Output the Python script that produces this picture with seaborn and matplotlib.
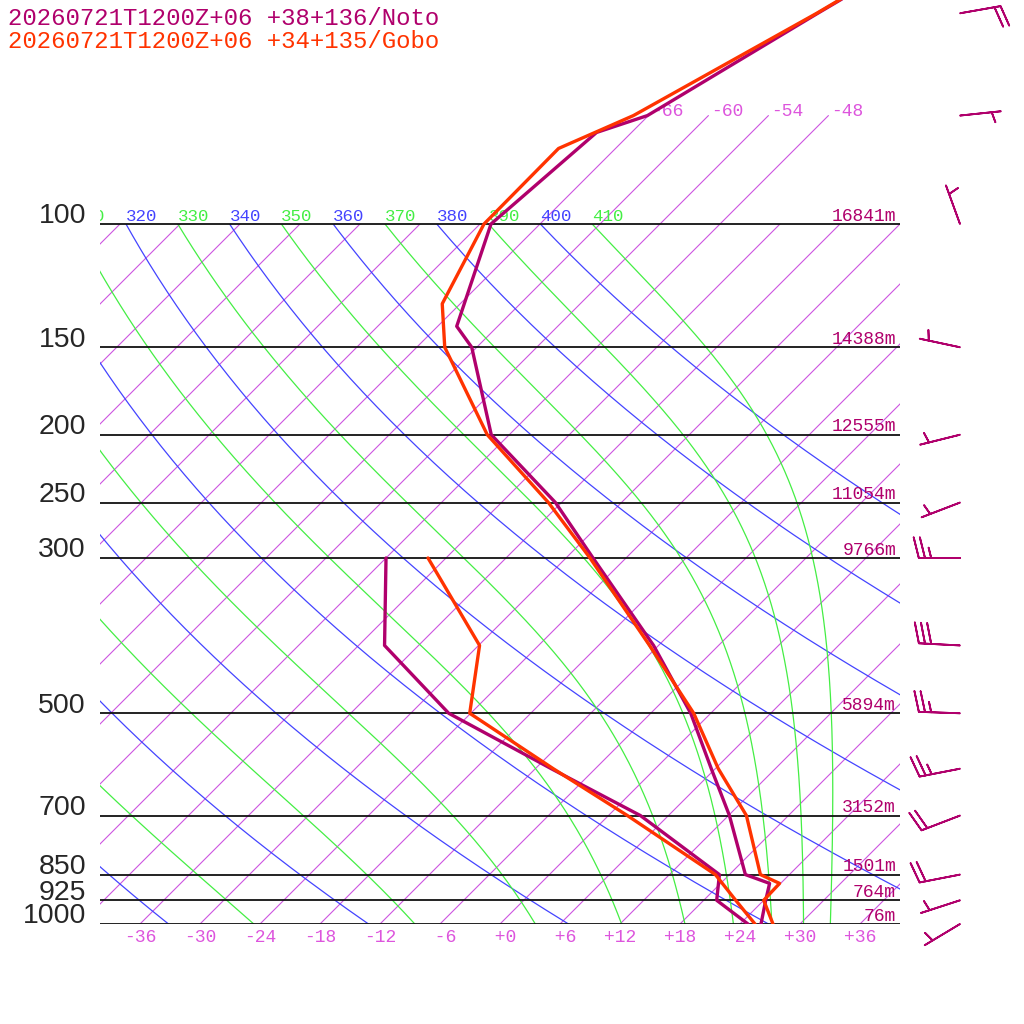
import numpy as np
import pandas as pd
import matplotlib
matplotlib.use("Agg")
import matplotlib.pyplot as plt
import matplotlib.transforms as mtransforms
import seaborn as sns
from matplotlib.patches import Rectangle

# ---------------- data ----------------
title_noto = "20260721T1200Z+06 +38+136/Noto"
title_gobo = "20260721T1200Z+06 +34+135/Gobo"

noto_t_p = [1000, 925, 875, 850, 700, 600, 500, 400, 300, 250, 200, 150, 140, 100, 74, 70, 50, 40]
noto_t = [26.1, 24.2, 22.9, 19.6, 12.1, 5.6, -2.0, -12.5, -27.3, -36.6, -49.8, -60.5, -64.1,
          -70.9, -69.5, -66.1, -59.3, -54.6]
gobo_t_p = [1000, 925, 875, 850, 700, 600, 500, 400, 300, 250, 200, 150, 130, 100, 78, 70, 50, 40]
gobo_t = [27.3, 24.0, 23.9, 21.1, 13.8, 6.3, -1.7, -12.9, -27.6, -37.3, -50.2, -63.2, -67.8,
          -71.6, -71.7, -67.5, -59.4, -54.7]

dew_p = [1000, 925, 850, 700, 600, 500, 400, 300]
noto_td = [24.8, 19.3, 17.0, 3.2, -10.4, -26.2, -39.4, -48.0]
gobo_td = [25.5, 21.2, 16.6, 1.9, -10.2, -24.1, -29.9, -43.8]

wind_p = [1000, 925, 850, 700, 600, 500, 400, 300, 250, 200, 150, 100, 70, 50]
wind_dir = [239, 252, 259, 249, 259, 272, 273, 270, 249, 256, 282, 340, 84, 80]
wind_kt = [5, 5, 20, 20, 25, 25, 30, 25, 5, 5, 5, 5, 5, 20]

level_p = [1000, 925, 850, 700, 500, 300, 250, 200, 150, 100]
level_height = [76, 764, 1501, 3152, 5894, 9766, 11054, 12555, 14388, 16841]

isotherm_ticks = list(range(-36, 37, 6))
isotherm_top = [-66, -60, -54, -48]
dry_theta = list(range(240, 401, 20))
moist_theta = list(range(250, 411, 20))

# ---------------- style ----------------
NOTO = "#b0006c"
GOBO = "#ff3300"
MAG = "#cc55e0"
MAGTXT = "#dd55dd"
BLUE = "#4444ff"
GREEN = "#44ee44"

sns.set_style("white")
plt.rcParams["font.family"] = ["Liberation Mono", "DejaVu Sans Mono"]

SKEW = 70.0  # deg per decade of pressure
P_TOP = 1000 * 10 ** (-924 / 700)


def sx(t, p):
    return np.asarray(t, float) + SKEW * np.log10(1000.0 / np.asarray(p, float))


fig = plt.figure(figsize=(10.24, 10.24), dpi=100)
ax = fig.add_axes([100 / 1024, 100 / 1024, 800 / 1024, 924 / 1024])
ax.set_yscale("log")
ax.set_ylim(1000, P_TOP)
ax.set_xlim(-40, 40)
ax.axis("off")

clip = Rectangle((-40, 100), 80, 900, transform=ax.transData)
lift = ax.transData + mtransforms.ScaledTranslation(0, 2.5 / 72, fig.dpi_scale_trans)

pp = np.logspace(np.log10(1000), np.log10(100), 300)

# isotherms
for t in range(-108, 37, 6):
    ln, = ax.plot(sx(np.full_like(pp, t), pp), pp, color=MAG, lw=0.8, zorder=1)
    ln.set_clip_path(clip)
ptop = np.logspace(np.log10(100), np.log10(70), 20)
for t in isotherm_top:
    ax.plot(sx(np.full_like(ptop, t), ptop), ptop, color=MAG, lw=0.8, zorder=1)
    ax.annotate(f"{t:+3d}", (sx(t, 70), 70), xytext=(2, 3), textcoords="offset points",
                ha="left", va="center", color=MAGTXT, fontsize=13)
for t in isotherm_ticks:
    ax.annotate(f"{t:+3d}", (sx(t, 1000), 1000), xytext=(0, -9.5), textcoords="offset points",
                ha="center", va="center", color=MAGTXT, fontsize=13, annotation_clip=False)


def label_adiabat(th, color):
    x0 = sx(th * 0.1 ** 0.2857 - 273.15, 100)
    if x0 > -44:  # labels further left fall entirely outside the frame
        ax.text(x0, 100, str(th), transform=lift, ha="left", va="baseline", color=color,
                fontsize=12.6, clip_on=True)


# dry adiabats
for th in dry_theta:
    T = th * (pp / 1000.0) ** 0.2857 - 273.15
    ln, = ax.plot(sx(T, pp), pp, color=BLUE, lw=0.9, zorder=1)
    ln.set_clip_path(clip)
    label_adiabat(th, BLUE)


# moist adiabats (integrated from 100 hPa downward)
def dTdlnp(T, p):
    es = 6.112 * np.exp(17.67 * (T - 273.15) / (T - 29.65))
    rs = 0.622 * es / (p - es)
    Lv, Rd, Cp, eps = 2.501e6, 287.04, 1005.7, 0.622
    return (Rd * T + Lv * rs) / (Cp + Lv * Lv * rs * eps / (Rd * T * T))


lnp = np.linspace(np.log(100), np.log(1000), 400)
for th in moist_theta:
    T = th * 0.1 ** 0.2857
    Ts = [T]
    for i in range(len(lnp) - 1):
        h = lnp[i + 1] - lnp[i]
        p0 = np.exp(lnp[i])
        k1 = dTdlnp(T, p0)
        k2 = dTdlnp(T + h * k1 / 2, np.exp(lnp[i] + h / 2))
        k3 = dTdlnp(T + h * k2 / 2, np.exp(lnp[i] + h / 2))
        k4 = dTdlnp(T + h * k3, np.exp(lnp[i + 1]))
        T = T + h * (k1 + 2 * k2 + 2 * k3 + k4) / 6
        Ts.append(T)
    P = np.exp(lnp)
    ln, = ax.plot(sx(np.array(Ts) - 273.15, P), P, color=GREEN, lw=0.9, zorder=1)
    ln.set_clip_path(clip)
    label_adiabat(th, GREEN)

# pressure lines and labels
for p, h in zip(level_p, level_height):
    ax.plot([-40, 40], [p, p], color="#111111", lw=1.3, zorder=2)
    ax.annotate(str(p), (-41.4, p), xytext=(0, 5.5), textcoords="offset points", ha="right",
                va="center", fontsize=20.5, family="Liberation Sans", annotation_clip=False)
    ax.annotate(f"{h}m", (39.6, p), xytext=(0, 2.5), textcoords="offset points", ha="right",
                va="baseline", color=NOTO, fontsize=13)

# profiles
profiles = [
    ("Noto T", noto_t_p, noto_t, NOTO),
    ("Noto Td", dew_p, noto_td, NOTO),
    ("Gobo T", gobo_t_p, gobo_t, GOBO),
    ("Gobo Td", dew_p, gobo_td, GOBO),
]
for name, p, t, c in profiles:
    df = pd.DataFrame({"x": sx(t, p), "p": p})
    sns.lineplot(data=df, x="x", y="p", sort=False, estimator=None, color=c, lw=2.4,
                 ax=ax, zorder=5)
ax.set_xlim(-40, 40)
ax.set_ylim(1000, P_TOP)
ax.axis("off")

# wind barbs
d = np.deg2rad(np.array(wind_dir, float))
s = np.array(wind_kt, float)
u = -s * np.sin(d)
v = -s * np.cos(d)
b = ax.barbs(np.full(len(wind_p), 46.0), wind_p, u, v, length=7.7, color=NOTO, linewidth=1.3,
             sizes=dict(height=0.5, spacing=0.15, emptybarb=0), zorder=6)
b.set_clip_on(False)

fig.text(8 / 1024, 1 - 25 / 1024, title_noto, color=NOTO, fontsize=17.3, va="baseline")
fig.text(8 / 1024, 1 - 48 / 1024, title_gobo, color=GOBO, fontsize=17.3, va="baseline")

fig.savefig("out.png", dpi=100)
